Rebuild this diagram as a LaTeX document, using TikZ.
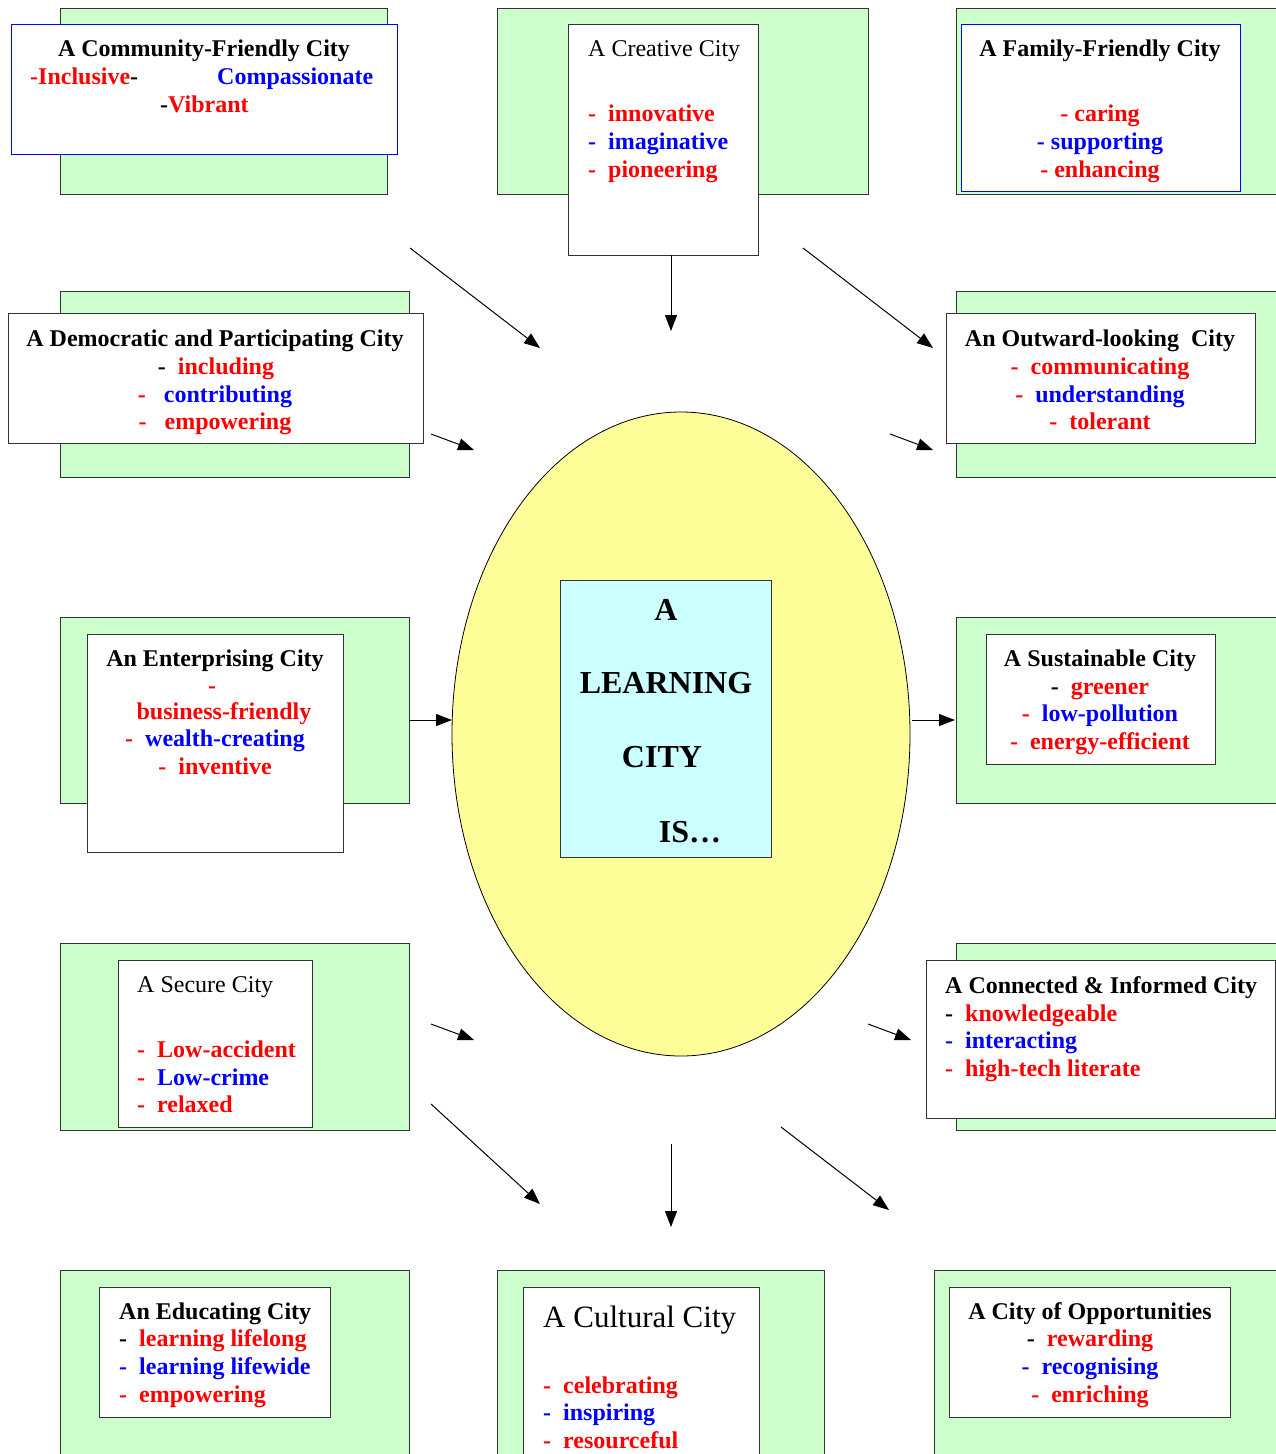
\documentclass[tikz,border=0pt]{standalone}
\usepackage{fontspec}
\setmainfont{Liberation Serif}
\usetikzlibrary{arrows.meta,shapes.geometric}
\definecolor{mint}{HTML}{CCFFCC}
\definecolor{lemon}{HTML}{FFFF99}
\definecolor{ice}{HTML}{CCFFFF}
\newcommand{\rd}[1]{\textcolor{red}{#1}}
\newcommand{\bl}[1]{\textcolor{blue}{#1}}
\newcommand{\sz}{\fontsize{24}{28}\selectfont}
\tikzset{
  back/.style={draw=black!80, fill=mint, line width=1.2pt, inner sep=0pt, anchor=north west},
  card/.style={draw=black!80, fill=white, line width=1.2pt, inner sep=0pt, anchor=north west},
  bluecard/.style={card, draw=blue},
  ln/.style={anchor=base, inner sep=0pt, font=\sz\bfseries},
  lnl/.style={ln, anchor=base west},
  plain/.style={anchor=base west, inner sep=0pt, font=\sz},
  big/.style={anchor=base, inner sep=0pt, font=\fontsize{32}{37}\selectfont\bfseries},
  arr/.style={-{Triangle[length=16pt,width=12pt]}, line width=1pt},
}
\begin{document}
\begin{tikzpicture}[x=1pt, y=-1pt]
\useasboundingbox (0,0) rectangle (1276,1454);
\clip (0,0) rectangle (1276,1454);

% top row
\node[back, minimum width=327pt, minimum height=186pt] (commB) at (60,8) {};
\node[bluecard, minimum width=386pt, minimum height=130pt] (commC) at (11,24) {};
\node[ln] (commT) at (204,56) {A Community-Friendly City};
\node[lnl] (commL1) at (30,84) {\rd{-Inclusive}-};
\node[lnl] (commL2) at (217,84) {\bl{Compassionate}};
\node[lnl] (commL3) at (160,112) {-\rd{Vibrant}};

\node[back, minimum width=371pt, minimum height=186pt] (creaB) at (497,8) {};
\node[card, minimum width=190pt, minimum height=231pt] (creaC) at (568,24) {};
\node[plain] (creaT) at (588,56) {A Creative City};
\node[lnl] (creaL1) at (588,121) {\rd{-~~innovative}};
\node[lnl] (creaL2) at (588,149) {\bl{-~~imaginative}};
\node[lnl] (creaL3) at (588,177) {\rd{-~~pioneering}};

\node[back, minimum width=340pt, minimum height=186pt] (famB) at (956,8) {};
\node[bluecard, minimum width=279pt, minimum height=167pt] (famC) at (961,24) {};
\node[ln] (famT) at (1100,56) {A Family-Friendly City};
\node[ln] (famL1) at (1100,121) {\rd{- caring}};
\node[ln] (famL2) at (1100,149) {\bl{- supporting}};
\node[ln] (famL3) at (1100,177) {\rd{- enhancing}};

% second row
\node[back, minimum width=349pt, minimum height=186pt] (demoB) at (60,291) {};
\node[card, minimum width=415pt, minimum height=130pt] (demoC) at (8,313) {};
\node[ln] (demoT) at (215,346) {A Democratic and Participating City};
\node[ln] (demoL1) at (216,374) {-~~\rd{including}};
\node[ln] (demoL2) at (215,402) {\rd{-~~~}\bl{contributing}};
\node[ln] (demoL3) at (215,429) {\rd{-~~~empowering}};

\node[back, minimum width=340pt, minimum height=186pt] (outB) at (956,291) {};
\node[card, minimum width=309pt, minimum height=130pt] (outC) at (946,313) {};
\node[ln] (outT) at (1100,346) {An Outward-looking~~City};
\node[ln] (outL1) at (1100,374) {\rd{-~~communicating}};
\node[ln] (outL2) at (1100,402) {\rd{-~~}\bl{understanding}};
\node[ln] (outL3) at (1100,429) {\rd{-~~tolerant}};

% middle
\node[draw, ellipse, fill=lemon, line width=0.8pt, minimum width=458pt, minimum height=644pt, inner sep=0pt] (hub) at (681,734) {};
\node[card, fill=ice, minimum width=211pt, minimum height=277pt] (core) at (560,580) {};
\node[big] (hubL1) at (666,620) {A};
\node[big] (hubL2) at (666,693) {LEARNING};
\node[big] (hubL3) at (662,767) {CITY};
\node[big] (hubL4) at (690,842) {IS…};

\node[back, minimum width=349pt, minimum height=186pt] (entB) at (60,617) {};
\node[card, minimum width=256pt, minimum height=218pt] (entC) at (87,634) {};
\node[ln] (entT) at (215,666) {An Enterprising City};
\node[ln] (entL0) at (212,693) {\rd{-}};
\node[ln] (entL1) at (224,719) {\rd{business-friendly}};
\node[ln] (entL2) at (215,746) {\rd{-~~}\bl{wealth-creating}};
\node[ln] (entL3) at (215,774) {\rd{-~~inventive}};

\node[back, minimum width=340pt, minimum height=186pt] (susB) at (956,617) {};
\node[card, minimum width=229pt, minimum height=130pt] (susC) at (986,634) {};
\node[ln] (susT) at (1100,666) {A Sustainable City};
\node[ln] (susL1) at (1100,694) {-~~\rd{greener}};
\node[ln] (susL2) at (1100,721) {\rd{-~~}\bl{low-pollution}};
\node[ln] (susL3) at (1100,749) {\rd{-~~energy-efficient}};

% fourth row
\node[back, minimum width=349pt, minimum height=187pt] (secB) at (60,943) {};
\node[card, minimum width=194pt, minimum height=167pt] (secC) at (118,960) {};
\node[plain] (secT) at (137,992) {A Secure City};
\node[lnl] (secL1) at (137,1057) {\rd{-~~Low-accident}};
\node[lnl] (secL2) at (137,1085) {\rd{-~~}\bl{Low-crime}};
\node[lnl] (secL3) at (137,1112) {\rd{-~~relaxed}};

\node[back, minimum width=340pt, minimum height=187pt] (conB) at (956,943) {};
\node[card, minimum width=349pt, minimum height=158pt] (conC) at (926,960) {};
\node[lnl] (conT) at (945,993) {A Connected \& Informed City};
\node[lnl] (conL1) at (945,1021) {-~~\rd{knowledgeable}};
\node[lnl] (conL2) at (945,1048) {\bl{-~~interacting}};
\node[lnl] (conL3) at (945,1076) {\rd{-~~high-tech literate}};

% bottom row
\node[back, minimum width=349pt, minimum height=200pt] (eduB) at (60,1270) {};
\node[card, minimum width=231pt, minimum height=130pt] (eduC) at (99,1287) {};
\node[lnl] (eduT) at (119,1319) {An Educating City};
\node[lnl] (eduL1) at (119,1346) {-~~\rd{learning lifelong}};
\node[lnl] (eduL2) at (119,1374) {\bl{-~~learning lifewide}};
\node[lnl] (eduL3) at (119,1402) {\rd{-~~empowering}};

\node[back, minimum width=327pt, minimum height=200pt] (culB) at (497,1270) {};
\node[card, minimum width=236pt, minimum height=200pt] (culC) at (523,1287) {};
\node[plain, font=\fontsize{31}{36}\selectfont] (culT) at (543,1327) {A Cultural City};
\node[lnl] (culL1) at (543,1393) {\rd{-~~celebrating}};
\node[lnl] (culL2) at (543,1420) {\bl{-~~inspiring}};
\node[lnl] (culL3) at (543,1448) {\rd{-~~resourceful}};

\node[back, minimum width=360pt, minimum height=200pt] (oppB) at (934,1270) {};
\node[card, minimum width=281pt, minimum height=130pt] (oppC) at (949,1287) {};
\node[ln] (oppT) at (1090,1319) {A City of Opportunities};
\node[ln] (oppL1) at (1090,1346) {-~~\rd{rewarding}};
\node[ln] (oppL2) at (1090,1374) {\bl{-~~recognising}};
\node[ln] (oppL3) at (1090,1402) {\rd{-~~enriching}};

% arrows
\coordinate (a1s) at (410,248);  \coordinate (a1e) at (540,348);
\coordinate (a2s) at (671,255);  \coordinate (a2e) at (671,331);
\coordinate (a3s) at (803,248);  \coordinate (a3e) at (933,348);
\coordinate (a4s) at (431,434);  \coordinate (a4e) at (474,450);
\coordinate (a5s) at (890,434);  \coordinate (a5e) at (933,450);
\coordinate (a6s) at (409,720);  \coordinate (a6e) at (452,720);
\coordinate (a7s) at (912,720);  \coordinate (a7e) at (955,720);
\coordinate (a8s) at (431,1024); \coordinate (a8e) at (474,1040);
\coordinate (a9s) at (868,1024); \coordinate (a9e) at (911,1040);
\coordinate (a10s) at (431,1104); \coordinate (a10e) at (540,1204);
\coordinate (a11s) at (671,1144); \coordinate (a11e) at (671,1227);
\coordinate (a12s) at (781,1127); \coordinate (a12e) at (889,1210);
\foreach \i in {1,...,12}{
  \draw[arr] (a\i s) -- (a\i e);
}
\end{tikzpicture}
\end{document}
